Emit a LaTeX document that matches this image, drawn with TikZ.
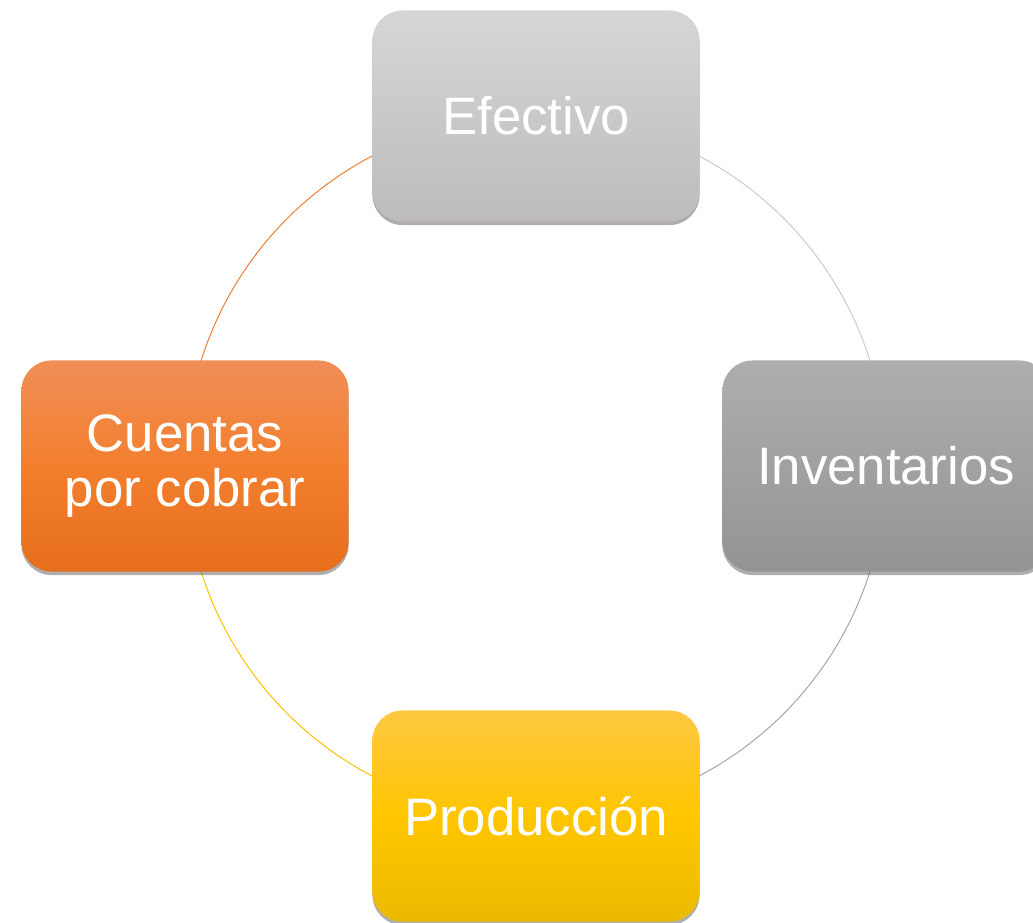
\documentclass[tikz,border=0pt]{standalone}
\usepackage{fontspec}
\setmainfont{Liberation Sans}
\usetikzlibrary{shadows,backgrounds}

\definecolor{efectivoTop}{HTML}{D7D6D7}
\definecolor{efectivoBot}{HTML}{BDBCBB}
\definecolor{inventTop}{HTML}{AEAEAE}
\definecolor{inventBot}{HTML}{949494}
\definecolor{prodTop}{HTML}{FFC843}
\definecolor{prodMid}{HTML}{FFC600}
\definecolor{prodBot}{HTML}{EBBA00}
\definecolor{cuentasTop}{HTML}{F08E57}
\definecolor{cuentasMid}{HTML}{F37F2E}
\definecolor{cuentasBot}{HTML}{E66E1C}
\definecolor{arcOrange}{HTML}{ED7D31}
\definecolor{arcGold}{HTML}{FFC000}
\definecolor{arcGray}{HTML}{A5A5A5}
\definecolor{arcLight}{HTML}{CACACA}

\tikzset{
  phase/.style={rounded corners=0.75cm, minimum width=8.175cm, minimum height=5.275cm,
    text=white, align=center, font=\fontsize{37.5}{39.5}\selectfont,
    drop shadow={shadow xshift=0pt, shadow yshift=-2.5pt, opacity=0.45, fill=black!70}},
  cycleline/.style={line width=0.7pt}
}

\begin{document}
\begin{tikzpicture}[x=0.025cm,y=-0.025cm]
\useasboundingbox (0,0) rectangle (1033,922);
% the four stages
\node[phase, top color=efectivoTop, bottom color=efectivoBot] (efectivo) at (536,116) {Efectivo};
\node[phase, top color=inventTop, bottom color=inventBot] (inventarios) at (886,466) {Inventarios};
\node[phase, top color=prodTop, bottom color=prodBot, middle color=prodMid] (produccion) at (536,816) {Producción};
\node[phase, top color=cuentasTop, bottom color=cuentasBot, middle color=cuentasMid] (cuentas) at (185,466) {Cuentas\\por cobrar};
% the circle behind them
\begin{scope}[on background layer]
\draw[cycleline, arcOrange] (efectivo.center) to[bend right=45] (cuentas.center);
\draw[cycleline, arcGold] (cuentas.center) to[bend right=45] (produccion.center);
\draw[cycleline, arcGray] (produccion.center) to[bend right=45] (inventarios.center);
\draw[cycleline, arcLight] (inventarios.center) to[bend right=45] (efectivo.center);
\end{scope}
\end{tikzpicture}
\end{document}
